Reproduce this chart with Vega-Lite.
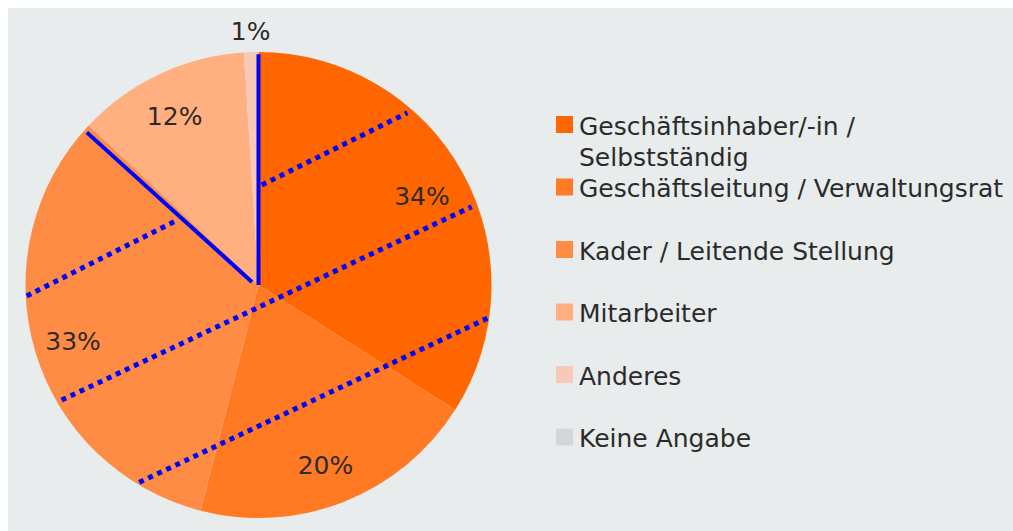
{
  "$schema": "https://vega.github.io/schema/vega-lite/v6.json",
  "width": 1013,
  "height": 531,
  "autosize": {"type": "fit", "contains": "padding"},
  "padding": {"left": 8, "top": 8, "right": 0, "bottom": 0},
  "background": "#ffffff",
  "config": {"view": {"fill": "#E8ECED", "stroke": null}},
  "datasets": {
    "slices": [
      {"category": "Geschäftsinhaber/-in / Selbstständig", "label": "Geschäftsinhaber/-in /\nSelbstständig", "pct": 0.34, "rank": 1},
      {"category": "Geschäftsleitung / Verwaltungsrat", "label": "Geschäftsleitung / Verwaltungsrat", "pct": 0.20, "rank": 2},
      {"category": "Kader / Leitende Stellung", "label": "Kader / Leitende Stellung", "pct": 0.33, "rank": 3},
      {"category": "Mitarbeiter", "label": "Mitarbeiter", "pct": 0.12, "rank": 4},
      {"category": "Anderes", "label": "Anderes", "pct": 0.01, "rank": 5},
      {"category": "Keine Angabe", "label": "Keine Angabe", "pct": 0.0, "rank": 6}
    ],
    "solid": [
      {"x1": 0.0, "y1": 0.0, "x2": 0.0, "y2": 0.99},
      {"x1": -0.028, "y1": 0.013, "x2": -0.737, "y2": 0.655}
    ],
    "dotted": [
      {"x1": 0.014, "y1": 0.429, "x2": 0.639, "y2": 0.739},
      {"x1": -0.995, "y1": -0.047, "x2": -0.361, "y2": 0.272},
      {"x1": -0.845, "y1": -0.494, "x2": 0.915, "y2": 0.336},
      {"x1": -0.512, "y1": -0.847, "x2": 0.982, "y2": -0.143}
    ]
  },
  "resolve": {"scale": {"y": "independent"}},
  "layer": [
    {
      "layer": [
        {
          "data": {"name": "slices"},
          "mark": {"type": "arc", "outerRadius": 233, "stroke": null},
          "encoding": {
            "theta": {"field": "pct", "type": "quantitative", "stack": true},
            "order": {"field": "rank", "type": "quantitative"},
            "color": {
              "field": "category", "type": "nominal",
              "scale": {
                "domain": ["Geschäftsinhaber/-in / Selbstständig", "Geschäftsleitung / Verwaltungsrat", "Kader / Leitende Stellung", "Mitarbeiter", "Anderes", "Keine Angabe"],
                "range": ["#FF6600", "#FF7A22", "#FF8C44", "#FFAF80", "#F7C9B6", "#D2D8D8"]
              },
              "legend": null
            },
            "x": {"datum": 0, "type": "quantitative", "scale": {"domain": [-1.0751, 3.2382], "nice": false, "zero": false}, "axis": null},
            "y": {"datum": 0, "type": "quantitative", "scale": {"domain": [-1.0558, 1.1888], "nice": false, "zero": false}, "axis": null}
          }
        },
        {
          "data": {"name": "slices"},
          "mark": {"type": "text", "radius": 190, "dx": -3, "dy": 4, "fontSize": 25, "font": "DejaVu Sans", "color": "#2e2a26", "align": "center", "baseline": "middle"},
          "encoding": {
            "theta": {"field": "pct", "type": "quantitative", "stack": true},
            "order": {"field": "rank", "type": "quantitative"},
            "text": {"condition": {"test": "datum.pct >= 0.05", "field": "pct", "type": "quantitative", "format": ".0%"}, "value": ""},
            "x": {"datum": 0, "type": "quantitative", "scale": {"domain": [-1.0751, 3.2382], "nice": false, "zero": false}, "axis": null},
            "y": {"datum": 0, "type": "quantitative", "scale": {"domain": [-1.0558, 1.1888], "nice": false, "zero": false}, "axis": null}
          }
        },
        {
          "data": {"name": "slices"},
          "mark": {"type": "text", "radius": 253, "fontSize": 25, "font": "DejaVu Sans", "color": "#2e2a26", "align": "center", "baseline": "middle"},
          "encoding": {
            "theta": {"field": "pct", "type": "quantitative", "stack": true},
            "order": {"field": "rank", "type": "quantitative"},
            "text": {"condition": {"test": "datum.pct > 0 && datum.pct < 0.05", "field": "pct", "type": "quantitative", "format": ".0%"}, "value": ""},
            "x": {"datum": 0, "type": "quantitative", "scale": {"domain": [-1.0751, 3.2382], "nice": false, "zero": false}, "axis": null},
            "y": {"datum": 0, "type": "quantitative", "scale": {"domain": [-1.0558, 1.1888], "nice": false, "zero": false}, "axis": null}
          }
        },
        {
          "data": {"name": "solid"},
          "mark": {"type": "rule", "color": "#0000FF", "strokeWidth": 4},
          "encoding": {
            "x": {"field": "x1", "type": "quantitative", "scale": {"domain": [-1.0751, 3.2382], "nice": false, "zero": false}, "axis": null},
            "y": {"field": "y1", "type": "quantitative", "scale": {"domain": [-1.0558, 1.1888], "nice": false, "zero": false}, "axis": null},
            "x2": {"field": "x2"},
            "y2": {"field": "y2"}
          }
        },
        {
          "data": {"name": "dotted"},
          "mark": {"type": "rule", "color": "#0000FF", "strokeWidth": 5, "strokeDash": [5, 5], "strokeCap": "butt"},
          "encoding": {
            "x": {"field": "x1", "type": "quantitative", "scale": {"domain": [-1.0751, 3.2382], "nice": false, "zero": false}, "axis": null},
            "y": {"field": "y1", "type": "quantitative", "scale": {"domain": [-1.0558, 1.1888], "nice": false, "zero": false}, "axis": null},
            "x2": {"field": "x2"},
            "y2": {"field": "y2"}
          }
        }
      ]
    },
    {
      "data": {"name": "slices"},
      "layer": [
        {
          "mark": {"type": "square", "size": 289, "filled": true, "opacity": 1},
          "encoding": {
            "x": {"datum": 1.3133, "type": "quantitative", "scale": {"domain": [-1.0751, 3.2382], "nice": false, "zero": false}, "axis": null},
            "y": {"field": "category", "type": "nominal", "sort": ["Geschäftsinhaber/-in / Selbstständig", "Geschäftsleitung / Verwaltungsrat", "Kader / Leitende Stellung", "Mitarbeiter", "Anderes", "Keine Angabe"], "scale": {"type": "point", "padding": 0, "range": [116.5, 429]}, "axis": null},
            "color": {"field": "category", "type": "nominal", "legend": null}
          }
        },
        {
          "mark": {"type": "text", "align": "left", "baseline": "middle", "dy": 2, "fontSize": 25, "font": "DejaVu Sans", "color": "#2b2b2b", "lineBreak": "\n", "lineHeight": 31},
          "encoding": {
            "x": {"datum": 1.3755, "type": "quantitative", "scale": {"domain": [-1.0751, 3.2382], "nice": false, "zero": false}, "axis": null},
            "y": {"field": "category", "type": "nominal", "sort": ["Geschäftsinhaber/-in / Selbstständig", "Geschäftsleitung / Verwaltungsrat", "Kader / Leitende Stellung", "Mitarbeiter", "Anderes", "Keine Angabe"], "scale": {"type": "point", "padding": 0, "range": [116.5, 429]}, "axis": null},
            "text": {"field": "label", "type": "nominal"}
          }
        }
      ]
    }
  ]
}
